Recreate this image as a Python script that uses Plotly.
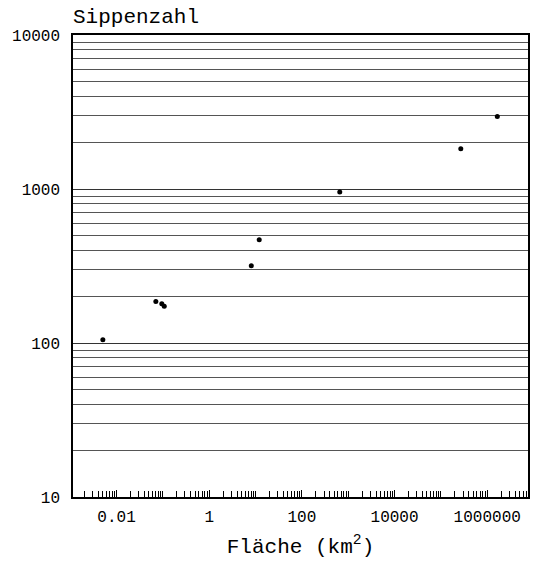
import plotly.graph_objects as go

# Data
flaeche_km2 = [0.00506, 0.0704, 0.0947, 0.107, 8.09, 12.0, 657, 2.69e5, 1.65e6]
sippenzahl = [105, 186, 180, 173, 318, 468, 955, 1828, 2958]

x_tickvals = [0.01, 1, 100, 10000, 1000000]
x_ticktext = ["0.01", "1", "100", "10000", "1000000"]
y_tickvals = [10, 100, 1000, 10000]
y_ticktext = ["10", "100", "1000", "10000"]

x_minor = [m * 10.0 ** k for k in range(-3, 7) for m in range(1, 10)]
y_minor = [m * 10.0 ** k for k in range(1, 4) for m in range(2, 10)]

FONT = "Liberation Mono"

fig = go.Figure()
fig.add_trace(go.Scatter(
    x=flaeche_km2, y=sippenzahl, mode="markers",
    marker=dict(color="black", size=5),
    showlegend=False, hoverinfo="skip",
))

fig.update_layout(
    width=555, height=566,
    margin=dict(l=70, r=27, t=35, b=67),
    plot_bgcolor="white", paper_bgcolor="white",
    font=dict(family=FONT, color="black", size=16),
    xaxis=dict(
        type="log", range=[-2.94, 6.88],
        tickvals=x_tickvals, ticktext=x_ticktext,
        ticks="inside", ticklen=7, tickcolor="black", tickwidth=1,
        showgrid=False, showline=True, mirror=True,
        linecolor="black", linewidth=1.5,
        tickfont=dict(family=FONT, size=16),
        ticklabelstandoff=4,
        minor=dict(tickvals=x_minor, ticks="inside", ticklen=6,
                   tickcolor="black", tickwidth=1, showgrid=False),
        title=dict(text="Fläche (km<sup>2</sup>)",
                   font=dict(family=FONT, size=21), standoff=12),
    ),
    yaxis=dict(
        type="log", range=[1, 4],
        tickvals=y_tickvals, ticktext=y_ticktext,
        ticks="", showgrid=True, gridcolor="#333", gridwidth=1,
        showline=True, mirror=True, linecolor="black", linewidth=1.5,
        tickfont=dict(family=FONT, size=16),
        ticklabelstandoff=8,
        minor=dict(tickvals=y_minor, ticks="", showgrid=True,
                   gridcolor="#555", gridwidth=1),
    ),
    annotations=[dict(
        text="Sippenzahl", xref="paper", yref="paper",
        x=-0.005, y=1.037, xanchor="left", yanchor="middle",
        showarrow=False, font=dict(family=FONT, size=21),
    )],
)

fig.write_html("out.html")
